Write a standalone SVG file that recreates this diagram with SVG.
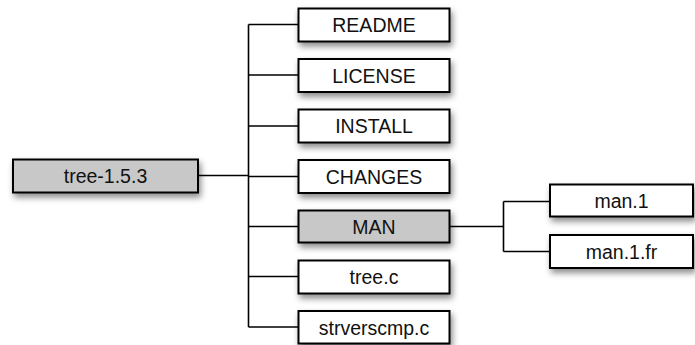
<svg xmlns="http://www.w3.org/2000/svg" width="695" height="345" viewBox="0 0 695 345">
<style>
.box{fill:#fff;stroke:#000;stroke-width:2;filter:url(#sh)}
.grey{fill:#c8c8c8}
.lbl{font-family:"Liberation Sans",Arial,sans-serif;font-size:19.5px;text-anchor:middle;fill:#111}
.wire{fill:none;stroke:#000;stroke-width:1.6}
</style>
<defs>
<filter id="sh" x="-20%" y="-40%" width="140%" height="200%">
<feDropShadow dx="2" dy="4" stdDeviation="3" flood-color="#000" flood-opacity="0.45"/>
</filter>
</defs>
<g id="connectors">
<path class="wire" d="M198 175.5H248.5M248.5 24.5V327M248.5 24.5H298.5M248.5 75H298.5M248.5 126H298.5M248.5 176.5H298.5M248.5 226.5H298.5M248.5 276.5H298.5M248.5 327H298.5"/>
<path class="wire" d="M450 226.5H503.5M503.5 201.5V251.5M503.5 201.5H550M503.5 251.5H550"/>
</g>
<g id="tree-1.5.3"><rect class="box grey" x="13" y="159.5" width="185" height="33"/><text class="lbl" x="105.5" y="183">tree-1.5.3</text></g>
<g id="README"><rect class="box" x="298.5" y="8.5" width="151" height="33"/><text class="lbl" x="374" y="32">README</text></g>
<g id="LICENSE"><rect class="box" x="298.5" y="59" width="151" height="33"/><text class="lbl" x="374" y="82.5">LICENSE</text></g>
<g id="INSTALL"><rect class="box" x="298.5" y="109.5" width="151" height="33"/><text class="lbl" x="374" y="133">INSTALL</text></g>
<g id="CHANGES"><rect class="box" x="298.5" y="160" width="151" height="33"/><text class="lbl" x="374" y="183.5">CHANGES</text></g>
<g id="MAN"><rect class="box grey" x="298.5" y="210.5" width="151" height="32"/><text class="lbl" x="374" y="233.5">MAN</text></g>
<g id="tree.c"><rect class="box" x="298.5" y="260.5" width="151" height="33"/><text class="lbl" x="374" y="284">tree.c</text></g>
<g id="strverscmp.c"><rect class="box" x="298.5" y="311" width="151" height="32.5"/><text class="lbl" x="374" y="334.5">strverscmp.c</text></g>
<g id="man.1"><rect class="box" x="550" y="184.5" width="143" height="32"/><text class="lbl" x="621.5" y="207.5">man.1</text></g>
<g id="man.1.fr"><rect class="box" x="550" y="235" width="143" height="33"/><text class="lbl" x="621.5" y="258.5">man.1.fr</text></g>
</svg>
